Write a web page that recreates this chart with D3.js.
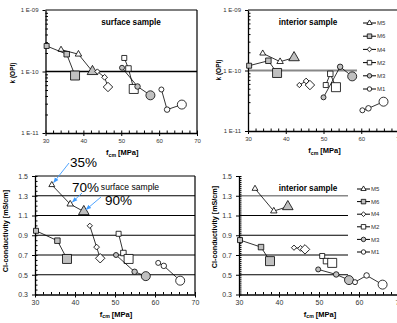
<!DOCTYPE html>
<html>
<head>
<meta charset="utf-8">
<script src="https://cdn.jsdelivr.net/npm/d3@7"></script>
<style>
  body { margin: 0; background: #fff; }
  text { font-family: Arial, "Liberation Sans", sans-serif; }
</style>
</head>
<body>
<svg id="chart" width="397" height="323"></svg>
<script>
// series order: M5, M6, M4, M2, M3, M1 (3 points each: 35%, 70%, 90%)
const seriesNames = ["M5", "M6", "M4", "M2", "M3", "M1"];
const fcmTicks = [30, 40, 50, 60, 70];
const kTicks = [1e-11, 1e-10, 1e-9];
const clTicks = [0.3, 0.5, 0.7, 0.9, 1.1, 1.3, 1.5];
const noteLabels = ["35%", "70%", "90%"];

const kSurfaceX = [[34.1, 38.7, 42.4], [30.3, 35.6, 37.8], [43.7, 45.6, 46.5], [50.8, 51.9, 53.3], [50.2, 54.3, 57.7], [60.6, 62.1, 66.0]];
const kSurfaceY = [[2.27e-10, 1.91e-10, 1.0e-10], [2.6e-10, 1.91e-10, 8.6e-11], [1.0e-10, 8.05e-11, 5.6e-11], [1.66e-10, 1.12e-10, 5.2e-11], [1.15e-10, 5.7e-11, 4.1e-11], [5.1e-11, 2.4e-11, 2.9e-11]];

const kInteriorX = [[33.9, 38.5, 42.2], [30.3, 35.4, 37.7], [43.6, 45.4, 46.4], [50.6, 51.8, 53.3], [50.0, 54.4, 57.6], [60.3, 61.9, 65.9]];
const kInteriorY = [[1.92e-10, 1.4e-10, 1.63e-10], [1.2e-10, 1.45e-10, 9.1e-11], [5.75e-11, 6.7e-11, 5.75e-11], [5.75e-11, 8.8e-11, 5.3e-11], [3.6e-11, 1.15e-10, 8.0e-11], [2.2e-11, 2.37e-11, 3.05e-11]];

const clSurfaceX = [[34.2, 38.8, 42.2], [30.25, 35.6, 38.0], [43.7, 45.4, 46.3], [50.9, 52.1, 53.4], [50.25, 54.9, 57.7], [60.8, 62.2, 66.3]];
const clSurfaceY = [[1.41, 1.215, 1.14], [0.945, 0.845, 0.66], [0.996, 0.78, 0.667], [0.915, 0.72, 0.66], [0.70, 0.53, 0.486], [0.62, 0.59, 0.44]];

const clInteriorX = [[34.0, 38.7, 42.2], [30.25, 35.5, 37.75], [43.75, 45.4, 46.5], [50.8, 51.75, 53.3], [49.8, 54.3, 57.5], [59.0, 61.9, 65.9]];
const clInteriorY = [[1.372, 1.145, 1.19], [0.851, 0.78, 0.638], [0.774, 0.767, 0.757], [0.69, 0.638, 0.62], [0.554, 0.503, 0.446], [0.425, 0.493, 0.40]];

const GREY = "#c0c0c0";
const shapes = ["triangle", "square", "diamond", "square", "circle", "circle"];
const fills = [["#fff", "#fff", GREY], [GREY, GREY, GREY], ["#fff", "#fff", "#fff"], ["#fff", "#fff", "#fff"], [GREY, GREY, GREY], ["#fff", "#fff", "#fff"]];
const legendFills = ["#fff", GREY, "#fff", "#fff", GREY, "#fff"];
const sizePx = [5, 5.5, 9];

const svg = d3.select("#chart");

function symbolPath(shape, s) {
  if (shape === "circle") return d3.symbol(d3.symbolCircle, Math.PI * s * s / 4)();
  if (shape === "triangle") return d3.symbol(d3.symbolTriangle, s * s * 0.6)();
  if (shape === "diamond") return d3.symbol(d3.symbolSquare, s * s * 0.55)();
  return d3.symbol(d3.symbolSquare, s * s)();
}

function drawMarker(g, shape, fill, s, px, py) {
  g.append("path")
    .attr("d", symbolPath(shape, s))
    .attr("transform", `translate(${px},${py})` + (shape === "diamond" ? " rotate(45)" : ""))
    .attr("fill", fill)
    .attr("stroke", "#000")
    .attr("stroke-width", 0.8);
}

function panel(p) {
  const g = svg.append("g");
  const x = d3.scaleLinear().domain([30, 70]).range([p.left, p.right]);
  const y = p.log
    ? d3.scaleLog().domain([1e-11, 1e-9]).range([p.bottom, p.top])
    : d3.scaleLinear().domain([0.3, 1.5]).range([p.bottom, p.top]);

  // reference lines
  p.refs.forEach(r => {
    g.append("line")
      .attr("x1", p.left).attr("x2", r.end)
      .attr("y1", y(r.v)).attr("y2", y(r.v))
      .attr("stroke", r.color || "#000")
      .attr("stroke-width", r.w || 1.2);
  });

  // frame lines
  if (p.topLine) {
    g.append("line").attr("x1", p.left).attr("x2", p.topLine).attr("y1", p.top).attr("y2", p.top)
      .attr("stroke", "#000").attr("stroke-width", 1.2);
  }
  if (p.rightLine) {
    g.append("line").attr("x1", p.right).attr("x2", p.right).attr("y1", p.top).attr("y2", p.bottom)
      .attr("stroke", "#000").attr("stroke-width", 1.2);
  }

  // x axis
  const xAxis = g.append("g").attr("transform", `translate(0,${p.bottom})`)
    .call(d3.axisBottom(x).tickValues(fcmTicks).tickSize(3).tickSizeOuter(0).tickPadding(3));
  g.append("g").attr("transform", `translate(0,${p.bottom})`)
    .call(d3.axisBottom(x).tickValues(d3.range(30, 71, 2)).tickSize(-2.5).tickSizeOuter(0).tickFormat(""))
    .select(".domain").remove();

  // y axis
  const yAxis = g.append("g").attr("transform", `translate(${p.left},0)`)
    .call(d3.axisLeft(y).tickValues(p.log ? kTicks : clTicks).tickSize(3).tickSizeOuter(0).tickPadding(4)
      .tickFormat(p.log ? (d => "1 E-" + String(Math.round(-Math.log10(d))).padStart(2, "0")) : d3.format(".1f")));
  let minor;
  if (p.log) {
    minor = [];
    [1e-11, 1e-10].forEach(b => { for (let i = 2; i <= 9; i++) minor.push(b * i); });
  } else {
    minor = d3.range(0.3, 1.5001, p.minorStep);
  }
  g.append("g").attr("transform", `translate(${p.left},0)`)
    .call(d3.axisLeft(y).tickValues(minor).tickSize(-2.5).tickSizeOuter(0).tickFormat(""))
    .select(".domain").remove();

  [xAxis, yAxis].forEach(a => {
    a.selectAll(".domain").attr("stroke-width", 1.3);
    a.selectAll("text").attr("font-size", p.log ? 6 : 7).attr("fill", "#333");
  });

  // series lines and markers
  p.xs.forEach((xv, si) => {
    const pts = xv.map((v, i) => [x(v), y(p.ys[si][i])]);
    g.append("path")
      .attr("d", d3.line()(pts))
      .attr("fill", "none").attr("stroke", "#000").attr("stroke-width", 0.8);
    pts.forEach((pt, i) => drawMarker(g, shapes[si], fills[si][i], sizePx[i], pt[0], pt[1]));
  });

  // title
  g.append("text")
    .attr("x", p.titleX).attr("y", p.titleY)
    .attr("text-anchor", "middle")
    .attr("font-size", p.titleBold ? 8.2 : 8.6)
    .attr("font-weight", p.titleBold ? "bold" : "normal")
    .text(p.title);

  // axis titles
  const xl = g.append("text")
    .attr("x", x(50) + 1).attr("y", p.bottom + 22)
    .attr("text-anchor", "middle").attr("font-size", 7.5).attr("font-weight", "bold");
  xl.append("tspan").text("f");
  xl.append("tspan").attr("font-size", 5.2).attr("dy", 1.5).text("cm");
  xl.append("tspan").attr("dy", -1.5).text(" [MPa]");

  g.append("text")
    .attr("transform", `translate(${p.ylabX},${p.ylabY}) rotate(-90)`)
    .attr("text-anchor", "middle").attr("font-size", p.log ? 6.5 : 7.2).attr("font-weight", "bold")
    .text(p.log ? "k (OPI)" : "Cl-conductivity [mS/cm]");

  // legend
  if (p.legend) {
    const L = p.legend;
    seriesNames.forEach((name, i) => {
      const ly = L.y + i * L.step;
      g.append("line").attr("x1", L.x).attr("x2", L.x + 13).attr("y1", ly).attr("y2", ly)
        .attr("stroke", "#000").attr("stroke-width", 1);
      drawMarker(g, shapes[i], legendFills[i], 4.5, L.x + 6.5, ly);
      g.append("text").attr("x", L.x + 14).attr("y", ly + 2.2)
        .attr("font-size", 6).attr("fill", "#333").text(name);
    });
  }
  return { x, y, g };
}

panel({
  left: 45.5, right: 197, top: 10, bottom: 133, log: true,
  xs: kSurfaceX, ys: kSurfaceY,
  refs: [{ v: 1e-10, end: 197, w: 1.3 }],
  topLine: 197, rightLine: true,
  title: "surface sample", titleX: 131, titleY: 25, titleBold: true,
  ylabX: 15, ylabY: 73
});

panel({
  left: 248, right: 399, top: 10, bottom: 131, log: true,
  xs: kInteriorX, ys: kInteriorY,
  refs: [{ v: 1e-10, end: 357, color: "#888", w: 2 }],
  topLine: 397, rightLine: false,
  title: "interior sample", titleX: 308, titleY: 25, titleBold: true,
  ylabX: 221, ylabY: 70,
  legend: { x: 363, y: 23, step: 13.2 }
});

const bl = panel({
  left: 35, right: 195, top: 176, bottom: 294.5, log: false, minorStep: 0.05,
  xs: clSurfaceX, ys: clSurfaceY,
  refs: [1.3, 1.1, 0.9, 0.7, 0.5].map(v => ({ v, end: 195, w: 1.1 })),
  topLine: 195, rightLine: true,
  title: "surface sample", titleX: 130, titleY: 190, titleBold: false,
  ylabX: 8, ylabY: 231
});

panel({
  left: 239, right: 399, top: 176, bottom: 294.5, log: false, minorStep: 0.02,
  xs: clInteriorX, ys: clInteriorY,
  refs: [{ v: 1.3, end: 348, color: "#888", w: 1.6 }].concat([1.1, 0.9, 0.7, 0.5].map(v => ({ v, end: 348, w: 1.1 }))),
  topLine: null, rightLine: false,
  title: "interior sample", titleX: 308, titleY: 191, titleBold: true,
  ylabX: 217, ylabY: 227,
  legend: { x: 357, y: 189, step: 12.6 }
});

// moisture annotations on the surface Cl-conductivity panel (M5 points)
const defs = svg.append("defs");
defs.append("marker").attr("id", "arr").attr("viewBox", "0 0 10 10")
  .attr("refX", 9).attr("refY", 5).attr("markerWidth", 6).attr("markerHeight", 6)
  .attr("orient", "auto-start-reverse")
  .append("path").attr("d", "M0,1 L10,5 L0,9 Z").attr("fill", "#3d9bff");

const noteText = [[70, 167], [72, 192], [105, 205]];
const noteFrom = [[69, 163], [82, 193], [101, 197]];
noteLabels.forEach((lab, i) => {
  const px = bl.x(clSurfaceX[0][i]), py = bl.y(clSurfaceY[0][i]);
  const [fx, fy] = noteFrom[i];
  const dx = px - fx, dy = py - fy, d = Math.hypot(dx, dy);
  bl.g.append("line")
    .attr("x1", fx).attr("y1", fy)
    .attr("x2", px - dx / d * 3).attr("y2", py - dy / d * 3)
    .attr("stroke", "#3d9bff").attr("stroke-width", 0.9)
    .attr("marker-end", "url(#arr)");
  bl.g.append("text").attr("x", noteText[i][0]).attr("y", noteText[i][1])
    .attr("font-size", 13.5).attr("fill", "#000").text(lab);
});
</script>
</body>
</html>
